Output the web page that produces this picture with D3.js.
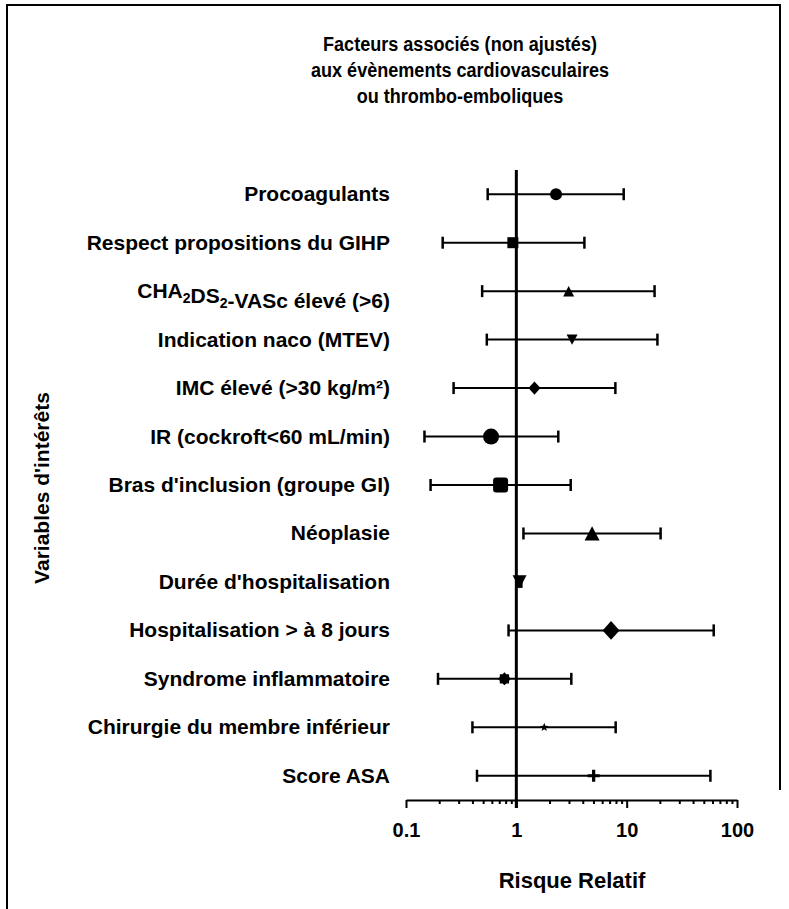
<!DOCTYPE html>
<html>
<head>
<meta charset="utf-8">
<script src="https://cdn.jsdelivr.net/npm/d3@7"></script>
<style>
  body { margin: 0; background: #fff; }
  svg { display: block; }
  text { font-family: "Liberation Sans", Arial, sans-serif; font-weight: bold; fill: #000; }
</style>
</head>
<body>
<svg id="chart" width="789" height="909"></svg>
<script>
// Variables of interest (top to bottom) and their unadjusted relative risks with 95% CI
const variables = [
  "Procoagulants",
  "Respect propositions du GIHP",
  "CHA₂DS₂-VASc élevé (>6)",
  "Indication naco (MTEV)",
  "IMC élevé (>30 kg/m²)",
  "IR (cockroft<60 mL/min)",
  "Bras d'inclusion (groupe GI)",
  "Néoplasie",
  "Durée d'hospitalisation",
  "Hospitalisation > à 8 jours",
  "Syndrome inflammatoire",
  "Chirurgie du membre inférieur",
  "Score ASA"
];
const relativeRisk = [2.29, 0.93, 2.98, 3.20, 1.46, 0.59, 0.72, 4.86, 1.07, 7.22, 0.78, 1.79, 5.02];
const ciLower      = [0.55, 0.215, 0.49, 0.54, 0.27, 0.147, 0.167, 1.16, 1.03, 0.85, 0.195, 0.40, 0.44];
const ciUpper      = [9.4, 4.14, 17.9, 19.0, 7.9, 2.40, 3.11, 20.3, 1.11, 61.5, 3.15, 7.95, 57.4];
const tickValues = [0.1, 1, 10, 100];
const tickLabels = ["0.1", "1", "10", "100"];
const titleLines = [
  "Facteurs associés (non ajustés)",
  "aux évènements cardiovasculaires",
  "ou thrombo-emboliques"
];
const xTitle = "Risque Relatif";
const yTitle = "Variables d'intérêts";

// Marker symbols (size = width in px)
const sym = {
  circle: { draw(c, w) { const r = w / 2; c.moveTo(r, 0); c.arc(0, 0, r, 0, 2 * Math.PI); } },
  square: { draw(c, w) { c.rect(-w / 2, -w / 2, w, w); } },
  roundSquare: { draw(c, w) {
    const h = w / 2, r = 3;
    c.moveTo(-h + r, -h);
    c.arcTo(h, -h, h, h, r); c.arcTo(h, h, -h, h, r);
    c.arcTo(-h, h, -h, -h, r); c.arcTo(-h, -h, h, -h, r); c.closePath();
  } },
  triUp: { draw(c, w) { const h = w * 0.95; c.moveTo(0, -h / 2); c.lineTo(w / 2, h / 2); c.lineTo(-w / 2, h / 2); c.closePath(); } },
  triDown: { draw(c, w) { const h = w * 0.95; c.moveTo(0, h / 2); c.lineTo(w / 2, -h / 2); c.lineTo(-w / 2, -h / 2); c.closePath(); } },
  diamond: { draw(c, w) { const h = w * 1.1; c.moveTo(0, -h / 2); c.lineTo(w / 2, 0); c.lineTo(0, h / 2); c.lineTo(-w / 2, 0); c.closePath(); } },
  burst: { draw(c, w) {
    const ro = w / 2, ri = ro * 0.78, n = 8;
    for (let i = 0; i < 2 * n; i++) {
      const a = Math.PI * i / n - Math.PI / 2, r = i % 2 ? ri : ro;
      i ? c.lineTo(r * Math.cos(a), r * Math.sin(a)) : c.moveTo(r * Math.cos(a), r * Math.sin(a));
    }
    c.closePath();
  } },
  star: { draw(c, w) {
    const ro = w / 2, ri = ro * 0.42, n = 5;
    for (let i = 0; i < 2 * n; i++) {
      const a = Math.PI * i / n - Math.PI / 2, r = i % 2 ? ri : ro;
      i ? c.lineTo(r * Math.cos(a), r * Math.sin(a)) : c.moveTo(r * Math.cos(a), r * Math.sin(a));
    }
    c.closePath();
  } },
  plus: { draw(c, w) { const t = 1.6, h = w / 2; c.rect(-t, -h, 2 * t, w); c.rect(-h, -t, w, 2 * t); } }
};
const markerShapes = ["circle", "square", "triUp", "triDown", "diamond",
                      "circle", "roundSquare", "triUp", "triDown", "diamond",
                      "burst", "star", "plus"];
const markerWidths = [12, 11, 11, 11, 12, 16, 15, 15, 14, 17, 13, 9, 12];

const svg = d3.select("#chart");
const plot = { left: 406, right: 737, top: 170, bottom: 800 };

// Frame
svg.append("path")
  .attr("d", "M7,909 V5 H780 V790")
  .attr("fill", "none").attr("stroke", "#000").attr("stroke-width", 2);

const x = d3.scaleLog().domain([0.1, 100]).range([plot.left, plot.right]);
const y = d3.scaleBand().domain(variables).range([plot.top, plot.bottom]);

// Title (condensed)
svg.append("g").attr("transform", "translate(460,0) scale(0.86,1)")
  .append("text").attr("text-anchor", "middle").style("font-size", "21px")
  .selectAll("tspan").data(titleLines).join("tspan")
  .attr("x", 0).attr("y", (d, i) => 51 + i * 26).text(d => d);

// Minor ticks
const minor = [];
for (let e = -1; e < 2; e++) for (let m = 2; m <= 9; m++) minor.push(m * Math.pow(10, e));
svg.append("g").attr("transform", `translate(0,${plot.bottom})`)
  .call(d3.axisBottom(x).tickValues(minor).tickSize(4).tickFormat(""))
  .call(g => g.select(".domain").remove())
  .call(g => g.selectAll("line").attr("stroke-width", 2));

// Major ticks and axis line
svg.append("g").attr("transform", `translate(0,${plot.bottom})`)
  .call(d3.axisBottom(x).tickValues(tickValues).tickSize(8).tickSizeOuter(0)
    .tickPadding(15).tickFormat((d, i) => tickLabels[i]))
  .call(g => g.select(".domain").attr("stroke-width", 2))
  .call(g => g.selectAll("line").attr("stroke-width", 2))
  .call(g => g.selectAll("text").style("font-size", "20px")
    .style("font-family", '"Liberation Sans", Arial, sans-serif').style("font-weight", "bold"));

// Reference line at RR = 1
svg.append("line")
  .attr("x1", x(1)).attr("x2", x(1)).attr("y1", plot.top).attr("y2", plot.bottom + 8)
  .attr("stroke", "#000").attr("stroke-width", 3);

// Row labels (with subscript support)
const subMap = { "₂": "2" };
const labels = svg.append("g");
variables.forEach(v => {
  const t = labels.append("text")
    .attr("x", 390).attr("y", y(v) + y.bandwidth() / 2 + 7)
    .attr("text-anchor", "end").style("font-size", "21px");
  let buf = "";
  const flush = () => { if (buf) { t.append("tspan").text(buf); buf = ""; } };
  for (const ch of v) {
    if (subMap[ch]) {
      flush();
      t.append("tspan").attr("dy", 5).style("font-size", "14px").text(subMap[ch]);
      t.append("tspan").attr("dy", -5).text("");
    } else buf += ch;
  }
  flush();
});

// Error bars
const rows = variables.map((v, i) => ({ v, rr: relativeRisk[i], lo: ciLower[i], hi: ciUpper[i], i }));
const bars = svg.append("g").attr("stroke", "#000");
bars.selectAll("line.ci").data(rows).join("line").attr("class", "ci")
  .attr("x1", d => x(d.lo)).attr("x2", d => x(d.hi))
  .attr("y1", d => y(d.v) + y.bandwidth() / 2).attr("y2", d => y(d.v) + y.bandwidth() / 2)
  .attr("stroke-width", 2);
["lo", "hi"].forEach(k => {
  bars.selectAll(`line.cap-${k}`).data(rows).join("line").attr("class", `cap-${k}`)
    .attr("x1", d => x(d[k])).attr("x2", d => x(d[k]))
    .attr("y1", d => y(d.v) + y.bandwidth() / 2 - 6).attr("y2", d => y(d.v) + y.bandwidth() / 2 + 6)
    .attr("stroke-width", 2.5);
});

// Point estimates
svg.append("g").selectAll("path").data(rows).join("path")
  .attr("transform", d => `translate(${x(d.rr)},${y(d.v) + y.bandwidth() / 2})`)
  .attr("d", d => d3.symbol().type(sym[markerShapes[d.i]]).size(markerWidths[d.i])())
  .attr("fill", "#000");

// Axis titles
svg.append("text")
  .attr("x", 572).attr("y", 888).attr("text-anchor", "middle").style("font-size", "22px")
  .text(xTitle);
svg.append("text")
  .attr("transform", "translate(49,488) rotate(-90)")
  .attr("text-anchor", "middle").style("font-size", "21px")
  .text(yTitle);
</script>
</body>
</html>
